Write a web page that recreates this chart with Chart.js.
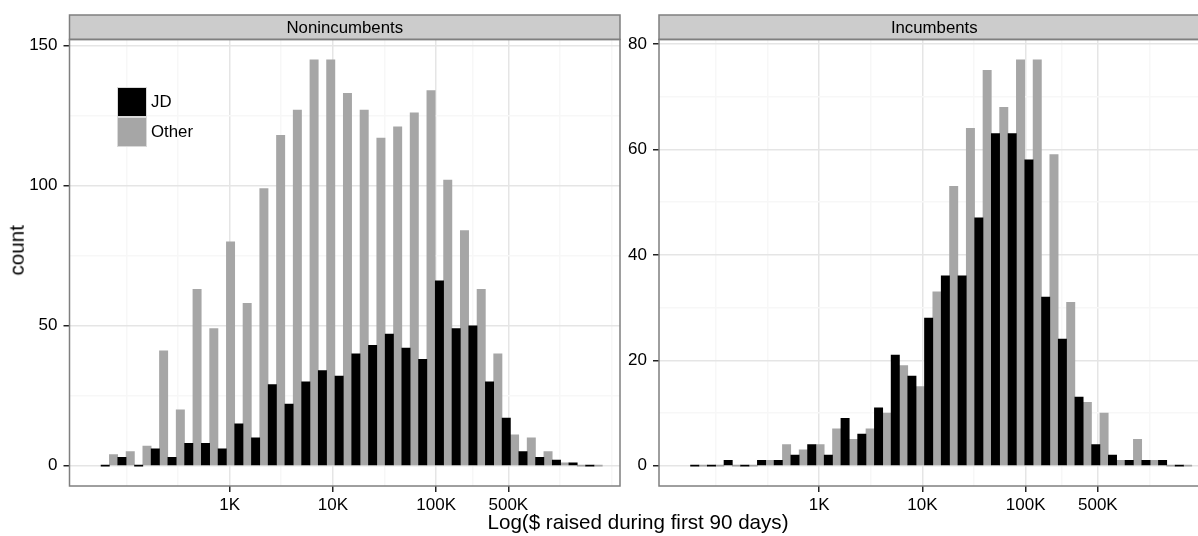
<!DOCTYPE html>
<html>
<head>
<meta charset="utf-8">
<script src="https://cdn.jsdelivr.net/npm/chart.js@4.4.1/dist/chart.umd.min.js"></script>
<style>
body { margin:0; background:#fff; overflow:hidden; font-family:'Liberation Sans', Arial, sans-serif; }
#page { position:relative; width:1198px; height:536px; overflow:hidden; }
canvas { position:absolute; top:0; }
#left { left:0; }
#right { left:600px; }
#legend { position:absolute; left:117px; top:87px; }
.key-row { height:30px; display:flex; align-items:center; }
.swatch { width:30px; height:30px; box-sizing:border-box; border:1px solid #D9D9D9; display:inline-block; }
.lbl { font-size:16.8px; color:#000; margin-left:4px; }
#ytitle { position:absolute; left:-33px; top:240px; width:100px; text-align:center; font-size:20.6px; line-height:20.6px; transform:rotate(-90deg); color:#000; }
#xtitle { position:absolute; left:338px; top:512px; width:600px; text-align:center; font-size:20.6px; line-height:20.6px; color:#000; }
</style>
</head>
<body>
<div id="page">
  <canvas id="left" width="630" height="536"></canvas>
  <canvas id="right" width="620" height="536"></canvas>
  <div id="legend"></div>
  <div id="ytitle">count</div>
  <div id="xtitle">Log($ raised during first 90 days)</div>
</div>
<script>
// histogram bins, centres in log10($)
const binCenters = [1.836, 1.998, 2.160, 2.321, 2.483, 2.645, 2.807, 2.969, 3.130, 3.292,
                    3.454, 3.616, 3.778, 3.939, 4.101, 4.263, 4.425, 4.587, 4.748, 4.910,
                    5.072, 5.234, 5.396, 5.557, 5.719, 5.881, 6.043, 6.205, 6.366, 6.528];

const panels = ['Nonincumbents', 'Incumbents'];
const seriesNames = ['JD', 'Other'];
const seriesColors = ['#000000', '#A6A6A6'];

const nonincJD    = [0, 3, 0, 6, 3, 8, 8, 6, 15, 10, 29, 22, 30, 34, 32, 40, 43, 47, 42, 38, 66, 49, 50, 30, 17, 5, 3, 2, 1, 0];
const nonincOther = [4, 5, 7, 41, 20, 63, 49, 80, 58, 99, 118, 127, 145, 145, 133, 127, 117, 121, 126, 134, 102, 84, 63, 40, 11, 10, 5, 1, 0, 0];
const incJD       = [0, 0, 1, 0, 1, 1, 2, 4, 2, 9, 6, 11, 21, 17, 28, 36, 36, 47, 63, 63, 58, 32, 24, 13, 4, 2, 1, 1, 1, 0];
const incOther    = [0, 0, 0, 0, 1, 4, 3, 4, 7, 5, 7, 10, 19, 15, 33, 53, 64, 75, 68, 77, 77, 59, 31, 12, 10, 1, 5, 1, 0, 0];

const xBreaks = [3, 4, 5, 5.699];
const xLabels = ['1K', '10K', '100K', '500K'];
const xMinor = [2, 2.5, 3.5, 4.5, 5.35, 6.199, 6.699];
const yBreaksLeft = [0, 50, 100, 150];
const yMinorLeft = [25, 75, 125];
const yBreaksRight = [0, 20, 40, 60, 80];
const yMinorRight = [10, 30, 50, 70];

Chart.defaults.font.family = "'Liberation Sans', Arial, sans-serif";
Chart.defaults.color = '#1a1a1a';

// grey strip behind the facet title + panel border
const frame = {
    id: 'frame',
    beforeDraw(chart) {
        const {ctx, chartArea: a} = chart;
        ctx.save();
        ctx.fillStyle = '#CCCCCC';
        ctx.fillRect(a.left, 15, a.right - a.left, a.top - 15);
        ctx.restore();
    },
    afterDraw(chart) {
        const {ctx, chartArea: a} = chart;
        ctx.save();
        ctx.strokeStyle = '#7F7F7F';
        ctx.lineWidth = 1.5;
        ctx.strokeRect(a.left, 15, a.right - a.left, a.top - 15);
        ctx.strokeRect(a.left, a.top, a.right - a.left, a.bottom - a.top);
        ctx.restore();
    }
};

function near(list, v) {
    return list.findIndex(b => Math.abs(b - v) < 1e-6);
}

function makePanel(id, title, jd, other, yBreaks, yMinor, yMin, yMax, yWidth, padRight) {
    let pts = vals => binCenters.map((x, i) => ({x: x, y: vals[i]}));
    new Chart(document.getElementById(id), {
        type: 'bar',
        data: {
            datasets: [
                {label: seriesNames[0], data: pts(jd), backgroundColor: seriesColors[0]},
                {label: seriesNames[1], data: pts(other), backgroundColor: seriesColors[1]}
            ]
        },
        options: {
            responsive: false,
            animation: false,
            layout: {padding: {top: 15, right: padRight, left: 0, bottom: 0}},
            datasets: {bar: {categoryPercentage: 1, barPercentage: 1, minBarLength: 1}},
            plugins: {
                legend: {display: false},
                tooltip: {enabled: false},
                title: {
                    display: true, text: title, fullSize: false, color: '#000',
                    font: {size: 16.8, weight: 'normal'},
                    padding: {top: 3.1, bottom: 1.2}
                }
            },
            scales: {
                x: {
                    type: 'linear', min: 1.45, max: 6.78, offset: false,
                    afterBuildTicks: s => {
                        s.ticks = xBreaks.concat(xMinor).sort((a, b) => a - b).map(v => ({value: v}));
                    },
                    afterFit: s => { s.height = 50; },
                    border: {display: false},
                    grid: {
                        offset: false,
                        color: c => near(xBreaks, c.tick.value) >= 0 ? '#E5E5E5' : '#F7F7F7',
                        lineWidth: 1.5,
                        tickLength: 6,
                        tickWidth: 1.5,
                        tickColor: c => near(xBreaks, c.tick.value) >= 0 ? '#222' : 'rgba(0,0,0,0)'
                    },
                    ticks: {
                        autoSkip: false, maxRotation: 0, padding: 3, color: '#000',
                        font: {size: 17},
                        callback: v => { let i = near(xBreaks, v); return i >= 0 ? xLabels[i] : ''; }
                    }
                },
                y: {
                    min: yMin, max: yMax,
                    afterBuildTicks: s => {
                        s.ticks = yBreaks.concat(yMinor).sort((a, b) => a - b).map(v => ({value: v}));
                    },
                    afterFit: s => { s.width = yWidth; },
                    border: {display: false},
                    grid: {
                        color: c => near(yBreaks, c.tick.value) >= 0 ? '#E5E5E5' : '#F7F7F7',
                        lineWidth: 1.5,
                        tickLength: 6,
                        tickWidth: 1.5,
                        tickColor: c => near(yBreaks, c.tick.value) >= 0 ? '#222' : 'rgba(0,0,0,0)'
                    },
                    ticks: {
                        autoSkip: false, padding: 6, color: '#000',
                        font: {size: 17},
                        callback: v => near(yBreaks, v) >= 0 ? String(v) : ''
                    }
                }
            }
        },
        plugins: [frame]
    });
}

makePanel('left', panels[0], nonincJD, nonincOther, yBreaksLeft, yMinorLeft, -7.25, 152.25, 69.5, 10);
makePanel('right', panels[1], incJD, incOther, yBreaksRight, yMinorRight, -3.85, 80.85, 59, 10.5);

// legend inside the left panel
let legendBox = document.getElementById('legend');
seriesNames.forEach((name, i) => {
    let row = document.createElement('div');
    row.className = 'key-row';
    row.innerHTML = `<span class="swatch" style="background:${seriesColors[i]}"></span><span class="lbl">${name}</span>`;
    legendBox.appendChild(row);
});
</script>
</body>
</html>
